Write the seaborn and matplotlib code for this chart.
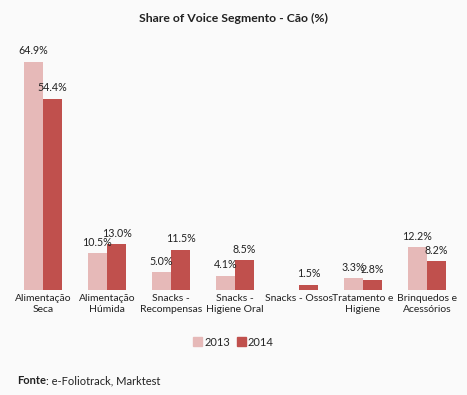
"""Share of Voice Segmento - Cão: grouped bars 2013 vs 2014."""

import numpy as np
import pandas as pd
import seaborn as sns
import matplotlib.pyplot as plt

categories = ['Alimentação\nSeca', 'Alimentação\nHúmida', 'Snacks -\nRecompensas',
              'Snacks -\nHigiene Oral', 'Snacks - Ossos', 'Tratamento e\nHigiene',
              'Brinquedos e\nAcessórios']
years = ['2013', '2014']
vals_2013 = [64.9, 10.5, 5.0, 4.1, np.nan, 3.3, 12.2]
vals_2014 = [54.4, 13.0, 11.5, 8.5, 1.5, 2.8, 8.2]

colors = {'2013': '#E6B9B8', '2014': '#C0504D'}

df = pd.DataFrame({
    'categoria': categories * 2,
    'ano': [years[0]] * len(categories) + [years[1]] * len(categories),
    'valor': vals_2013 + vals_2014,
})

sns.set_style('white')
plt.rcParams['font.family'] = ['Lato', 'DejaVu Sans']

fig = plt.figure(figsize=(4.67, 3.95), dpi=100, facecolor='#FAFAFA')
ax = fig.add_axes([11 / 467, 1 - 290 / 395, 448 / 467, 246 / 395])
ax.set_facecolor('#FAFAFA')

# missing value drawn as an empty (zero-height) bar, with no label
sns.barplot(data=df.fillna(0), x='categoria', y='valor', hue='ano', palette=colors,
            width=0.6, saturation=1, linewidth=0, ax=ax, legend=False)

# Value labels on top of bars
for cont, yr in zip(ax.containers, years):
    labs = ['' if np.isnan(v) else f'{v:.1f}%' for v in df.loc[df['ano'] == yr, 'valor']]
    ax.bar_label(cont, labels=labs, padding=4, fontsize=7.7, color='#222222')

ax.set_ylim(0, 70)
ax.set_xlim(-0.5, len(categories) - 0.5)
ax.set_xlabel('')
ax.set_ylabel('')
ax.set_yticks([])
ax.tick_params(axis='x', length=0, pad=3, labelsize=7.5, colors='#222222')
for s in ax.spines.values():
    s.set_visible(False)

fig.text(0.5, 1 - 18 / 395, 'Share of Voice Segmento - Cão (%)', ha='center', va='center',
         fontsize=8.8, fontweight='bold', color='#222222')

# Legend
handles = [plt.Rectangle((0, 0), 1, 1, color=colors[y]) for y in years]
fig.legend(handles, years, loc='center', bbox_to_anchor=(0.5, 1 - 342 / 395), ncol=2,
           frameon=False, fontsize=8, handlelength=0.8, handleheight=0.8,
           handletextpad=0.2, columnspacing=0.6)

# Source note
src = fig.text(17 / 467, 1 - 381 / 395, 'Fonte', fontsize=8, fontweight='bold',
               va='center', color='#222222')
ax.annotate(': e-Foliotrack, Marktest', xy=(1, 0.5), xycoords=src, va='center',
            fontsize=8, color='#222222', annotation_clip=False)

fig.savefig('out.png', dpi=100, facecolor=fig.get_facecolor())
